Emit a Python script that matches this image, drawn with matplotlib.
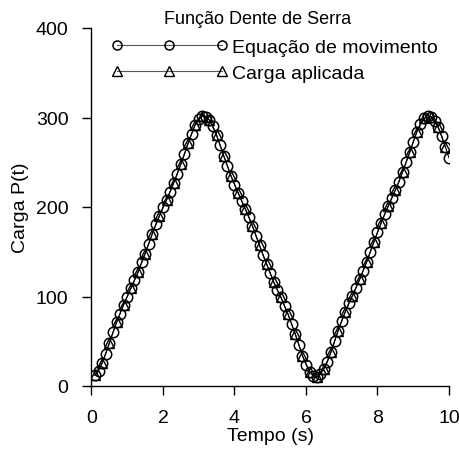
import matplotlib
matplotlib.use("Agg")
import matplotlib.pyplot as plt

# Data
t_eq = [round(0.1 * k, 1) for k in range(1, 101)]
p_eq = [12, 17, 26, 36, 48, 60, 71, 81, 91, 100,
        109, 118, 127, 138, 148, 159, 170, 181, 190, 200,
        208, 217, 227, 237, 248, 259, 271, 282, 292, 298,
        302, 301, 297, 290, 280, 269, 257, 246, 235, 225,
        216, 207, 198, 189, 179, 168, 157, 146, 136, 126,
        116, 107, 99, 89, 80, 69, 58, 46, 34, 24,
        16, 11, 10, 13, 19, 27, 38, 50, 62, 73,
        83, 93, 101, 110, 119, 129, 139, 150, 161, 172,
        182, 192, 201, 210, 219, 228, 239, 250, 261, 273,
        284, 293, 299, 302, 301, 296, 289, 279, 267, 255]

t_load = [0.1, 0.3, 0.5, 0.7, 0.9, 1.1, 1.3, 1.5, 1.7, 1.9,
          2.1, 2.3, 2.5, 2.7, 2.9, 3.1, 3.3, 3.5, 3.7, 3.9,
          4.1, 4.3, 4.5, 4.7, 4.9, 5.1, 5.3, 5.5, 5.7, 5.9,
          6.1, 6.3, 6.5, 6.7, 6.9, 7.1, 7.3, 7.5, 7.7, 7.9,
          8.1, 8.3, 8.5, 8.7, 8.9, 9.1, 9.3, 9.5, 9.7, 9.9]
p_load = [12, 26, 48, 71, 91, 109, 127, 148, 170, 190,
          208, 227, 248, 271, 292, 302, 297, 280, 257, 235,
          216, 198, 179, 157, 136, 116, 99, 80, 58, 34,
          16, 10, 19, 38, 62, 83, 101, 119, 139, 161,
          182, 201, 219, 239, 261, 284, 299, 301, 289, 267]

legend_title = "Função Dente de Serra"
label_eq = "Equação de movimento"
label_load = "Carga aplicada"
xlabel = "Tempo (s)"
ylabel = "Carga P(t)"
xticks = [0, 2, 4, 6, 8, 10]
yticks = [0, 100, 200, 300, 400]

plt.rcParams['font.family'] = ['Liberation Sans', 'DejaVu Sans']
FS = 14

fig = plt.figure(figsize=(4.6, 4.52), dpi=100)
ax = fig.add_axes([91.5 / 460, 65 / 452, (449 - 91.5) / 460, (387 - 29) / 452])

ax.plot(t_eq, p_eq, color='black', lw=0.8, marker='o', ms=7.5, mfc='none',
        mec='black', mew=1.1, label=label_eq)
ax.plot(t_load, p_load, color='black', lw=0.8, marker='^', ms=6.5, mfc='none',
        mec='black', mew=1.0, label=label_load)

ax.set_xlim(0, 10)
ax.set_ylim(0, 400)
ax.set_xticks(xticks)
ax.set_yticks(yticks)
ax.spines['top'].set_visible(False)
ax.spines['right'].set_visible(False)
for s in ('left', 'bottom'):
    ax.spines[s].set_linewidth(1.0)
ax.tick_params(direction='out', length=6.5, width=1.0, labelsize=FS, pad=10)
ax.set_xlabel(xlabel, fontsize=FS, labelpad=1)
ax.set_ylabel(ylabel, fontsize=FS, labelpad=5)

fig.text(258 / 460, 1 - 19 / 452, legend_title, ha='center', va='center',
         fontsize=13)

leg = ax.legend(loc='upper left', bbox_to_anchor=(111 / 460, 1 - 39 / 452),
                bbox_transform=fig.transFigure, frameon=False, numpoints=3,
                handlelength=6.0, handletextpad=0.2, labelspacing=0.45,
                borderpad=0, borderaxespad=0, fontsize=FS)
for line in leg.get_lines():
    line.set_color('#555555')
    line.set_markeredgecolor('black')
    line.set_markersize(6.5)

fig.savefig("out.png", dpi=100)
